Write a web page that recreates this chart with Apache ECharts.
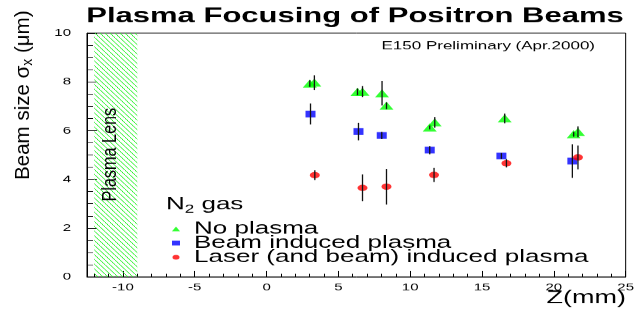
<!DOCTYPE html>
<html>
<head>
<meta charset="utf-8">
<script src="https://cdn.jsdelivr.net/npm/echarts@6/dist/echarts.min.js"></script>
<style>
  html, body { margin: 0; padding: 0; background: #fff; overflow: hidden; }
  /* the original picture is squashed vertically, so draw tall and squash */
  #chart { width: 637px; height: 468px; transform: scaleY(0.6752); transform-origin: 0 0; }
</style>
</head>
<body>
<div id="chart"></div>
<script>
  // No plasma
  var zNoPlasma = [3.01, 3.33, 6.33, 6.68, 8.04, 8.35, 11.36, 11.71, 16.58, 21.38, 21.68];
  var sigmaNoPlasma = [7.93, 7.97, 7.59, 7.6, 7.53, 7.02, 6.13, 6.34, 6.5, 5.85, 5.95];
  var errNoPlasma = [0.14, 0.3, 0.14, 0.23, 0.5, 0.14, 0.08, 0.22, 0.2, 0.1, 0.22];
  // Beam induced plasma
  var zBeam = [3.06, 6.40, 8.02, 11.36, 16.35, 21.29];
  var sigmaBeam = [6.68, 5.96, 5.8, 5.2, 4.96, 4.75];
  var errBeam = [0.43, 0.36, 0.15, 0.17, 0.12, 0.69];
  // Laser (and beam) induced plasma
  var zLaser = [3.36, 6.68, 8.35, 11.66, 16.70, 21.68];
  var sigmaLaser = [4.17, 3.65, 3.7, 4.18, 4.66, 4.9];
  var errLaser = [0.2, 0.55, 0.73, 0.29, 0.17, 0.49];

  var lensRange = [-12, -9];
  var xMajor = [-10, -5, 0, 5, 10, 15, 20, 25];
  var xMinor = [-12, -11, -9, -8, -7, -6, -4, -3, -2, -1, 1, 2, 3, 4, 6, 7, 8, 9,
                11, 12, 13, 14, 16, 17, 18, 19, 21, 22, 23, 24];
  var names = ['No plasma', 'Beam induced plasma', 'Laser (and beam) induced plasma'];

  var font = 'Liberation Sans, Arial, sans-serif';

  function pts(z, s) { return z.map(function (v, i) { return [v, s[i]]; }); }
  function errs(z, s, e) { return z.map(function (v, i) { return [v, s[i], e[i]]; }); }

  // hatch for the plasma lens band (tile is tall because the page gets squashed)
  var hatch = document.createElement('canvas');
  hatch.width = 5; hatch.height = 7;
  var hc = hatch.getContext('2d');
  hc.strokeStyle = '#22f022';
  hc.lineWidth = 1;
  hc.beginPath();
  hc.moveTo(-1, -1.4); hc.lineTo(6, 8.4);
  hc.stroke();

  function errorBar(params, api) {
    var lo = api.coord([api.value(0), api.value(1) - api.value(2)]);
    var hi = api.coord([api.value(0), api.value(1) + api.value(2)]);
    return {
      type: 'line',
      shape: { x1: lo[0], y1: lo[1], x2: hi[0], y2: hi[1] },
      style: { stroke: '#111', lineWidth: 1.3 }
    };
  }

  var chart = echarts.init(document.getElementById('chart'));
  chart.setOption({
    animation: false,
    grid: { left: 87, right: 11, top: 49, bottom: 58, show: true, borderColor: '#000', borderWidth: 1 },
    xAxis: [{
      type: 'value', min: -12.5, max: 25,
      axisLine: { onZero: false, lineStyle: { color: '#000', width: 1 } },
      axisTick: { inside: true, length: 9, customValues: xMajor, lineStyle: { color: '#000' } },
      axisLabel: { customValues: xMajor, color: '#000', fontSize: 15, fontFamily: font, margin: 8 },
      splitLine: { show: false }
    }, {
      type: 'value', min: -12.5, max: 25, position: 'bottom',
      axisLine: { show: false, onZero: false },
      axisTick: { inside: true, length: 4.5, customValues: xMinor, lineStyle: { color: '#000' } },
      axisLabel: { show: false },
      splitLine: { show: false }
    }],
    yAxis: {
      type: 'value', min: 0, max: 10, interval: 2,
      axisLine: { show: true, onZero: false, lineStyle: { color: '#000', width: 1 } },
      axisTick: { inside: true, length: 10, lineStyle: { color: '#000' } },
      minorTick: { show: true, splitNumber: 4, length: 6, lineStyle: { color: '#000' } },
      axisLabel: { color: '#000', fontSize: 15, fontFamily: font, margin: 16 },
      splitLine: { show: false }
    },
    legend: {
      orient: 'vertical', left: 167, top: 321,
      itemWidth: 8, itemHeight: 7, itemGap: -5,
      textStyle: { fontSize: 26, fontFamily: font, color: '#000', padding: [0, 0, 0, 9] },
      data: names
    },
    series: [{
      type: 'custom', silent: true, z: 1,
      data: [lensRange],
      renderItem: function (params, api) {
        var tl = api.coord([api.value(0), 10]);
        var br = api.coord([api.value(1), 0]);
        return {
          type: 'rect',
          shape: { x: tl[0], y: tl[1], width: br[0] - tl[0], height: br[1] - tl[1] },
          style: { fill: { image: hatch, repeat: 'repeat' } }
        };
      }
    }, {
      name: names[0], type: 'scatter', symbol: 'triangle', symbolSize: [14, 12], z: 3,
      itemStyle: { color: '#00ff00' }, data: pts(zNoPlasma, sigmaNoPlasma)
    }, {
      name: names[1], type: 'scatter', symbol: 'rect', symbolSize: [10, 10], z: 3,
      itemStyle: { color: '#0000ff' }, data: pts(zBeam, sigmaBeam)
    }, {
      name: names[2], type: 'scatter', symbol: 'circle', symbolSize: [10, 9.5], z: 3,
      itemStyle: { color: '#ff0000' }, data: pts(zLaser, sigmaLaser)
    }, {
      type: 'custom', silent: true, z: 5, renderItem: errorBar, data: errs(zNoPlasma, sigmaNoPlasma, errNoPlasma)
    }, {
      type: 'custom', silent: true, z: 5, renderItem: errorBar, data: errs(zBeam, sigmaBeam, errBeam)
    }, {
      type: 'custom', silent: true, z: 5, renderItem: errorBar, data: errs(zLaser, sigmaLaser, errLaser)
    }],
    graphic: [{
      type: 'text', x: 355, y: 24, z: 10,
      style: { text: 'Plasma Focusing of Positron Beams', font: 'bold 31px ' + font, fill: '#000',
               textAlign: 'center', textVerticalAlign: 'middle' }
    }, {
      type: 'text', x: 595, y: 68, z: 10,
      style: { text: 'E150 Preliminary (Apr.2000)', font: '17px ' + font, fill: '#000',
               textAlign: 'right', textVerticalAlign: 'middle' }
    }, {
      type: 'text', x: 626, y: 442, z: 10,
      style: { text: 'Z(mm)', font: '27px ' + font, fill: '#000',
               textAlign: 'right', textVerticalAlign: 'middle' }
    }, {
      type: 'text', x: 166, y: 303, z: 10,
      style: { text: 'N{sub|2} gas', font: '26px ' + font, fill: '#000',
               textAlign: 'left', textVerticalAlign: 'middle',
               rich: { sub: { fontSize: 17, fontFamily: font, padding: [14, 0, 0, 0] } } }
    }, {
      type: 'text', x: 23, y: 141, z: 10, rotation: Math.PI / 2, scaleX: 1.45,
      style: { text: 'Beam size σ{sub|x} (μm)', font: '21px ' + font, fill: '#000',
               textAlign: 'center', textVerticalAlign: 'middle',
               rich: { sub: { fontSize: 14, fontFamily: font, padding: [11, 0, 0, 0] } } }
    }, {
      type: 'text', x: 110, y: 229, z: 10, rotation: Math.PI / 2, scaleX: 1.2,
      style: { text: 'Plasma Lens', font: '20px ' + font, fill: '#000',
               textAlign: 'center', textVerticalAlign: 'middle' }
    }]
  });
</script>
</body>
</html>
